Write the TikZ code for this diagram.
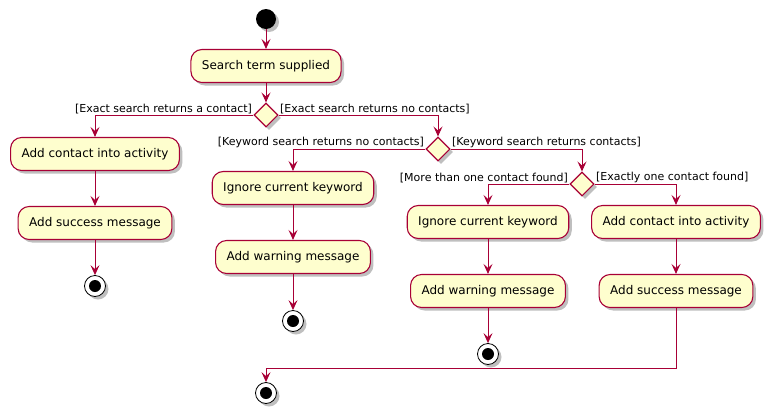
\documentclass[tikz,border=0pt]{standalone}
\usepackage{fontspec}
\setmainfont{DejaVu Sans}
\usetikzlibrary{shapes.geometric,arrows.meta,shadows}
\definecolor{umlred}{HTML}{A80036}
\definecolor{umlfill}{HTML}{FEFECE}

\begin{document}
\begin{tikzpicture}[x=1pt,y=-1pt,
	umlshadow/.style={drop shadow={shadow xshift=3pt,shadow yshift=-3pt,fill=black,opacity=0.25}},
	act/.style={draw=umlred,fill=umlfill,line width=1.1pt,rounded corners=11pt,minimum height=33pt,inner xsep=11pt,font=\fontsize{12}{14}\selectfont,umlshadow},
	choice/.style={diamond,draw=umlred,fill=umlfill,line width=1.1pt,minimum width=24pt,minimum height=24pt,inner sep=0pt,umlshadow},
	startdot/.style={circle,fill=black,minimum size=20pt,inner sep=0pt,umlshadow},
	stopdot/.style={circle,draw=black,fill=white,line width=0.8pt,minimum size=21pt,inner sep=0pt,umlshadow,
		path picture={\fill[black] (path picture bounding box.center) circle (6pt);}},
	flow/.style={draw=umlred,line width=1pt,-{Stealth[length=10pt,width=9pt,inset=4pt]}},
	guard/.style={font=\fontsize{11}{13}\selectfont,inner sep=1pt}
	]
	\useasboundingbox (0,0) rectangle (772,413);
	
	%top
	\node[startdot] (start) at (266,19){};
	\node[act] (search) at (266,66){Search term supplied};
	\node[choice] (exact) at (266,115){};
	
	%exact contact branch
	\node[act] (addL) at (95,154){Add contact into activity};
	\node[act] (succL) at (95,223){Add success message\ };
	\node[stopdot] (endL) at (95,286){};
	
	%keyword search
	\node[choice] (keyword) at (438,149){};
	\node[act] (ignA) at (293,188){Ignore current keyword};
	\node[act] (warnA) at (293,257){Add warning message};
	\node[stopdot] (endA) at (293,321){};
	
	\node[choice] (count) at (582,184){};
	\node[act] (ignB) at (488,222){Ignore current keyword};
	\node[act] (warnB) at (488,291){Add warning message};
	\node[stopdot] (endB) at (488,354){};
	
	\node[act] (addR) at (676,222){Add contact into activity};
	\node[act] (succR) at (676,291){Add success message\ };
	
	%merge
	\coordinate (merge) at (266,368);
	\node[stopdot] (endM) at (266,393){};
	
	%flows
	\draw[flow] (start) -- (search);
	\draw[flow] (search) -- (exact);
	\draw[flow] (exact.west) node[guard,above left]{[Exact search returns a contact]} -| (addL);
	\draw[flow] (exact.east) node[guard,above right]{[Exact search returns no contacts]} -| (keyword);
	\draw[flow] (addL) -- (succL);
	\draw[flow] (succL) -- (endL);
	
	\draw[flow] (keyword.west) node[guard,above left]{[Keyword search returns no contacts]} -| (ignA);
	\draw[flow] (keyword.east) node[guard,above right]{[Keyword search returns contacts]} -| (count);
	\draw[flow] (ignA) -- (warnA);
	\draw[flow] (warnA) -- (endA);
	
	\draw[flow] (count.west) node[guard,above left]{[More than one contact found]} -| (ignB);
	\draw[flow] (count.east) node[guard,above right]{[Exactly one contact found]} -| (addR);
	\draw[flow] (ignB) -- (warnB);
	\draw[flow] (warnB) -- (endB);
	\draw[flow] (addR) -- (succR);
	\draw[flow] (succR) |- (merge) -- (endM);
\end{tikzpicture}
\end{document}
